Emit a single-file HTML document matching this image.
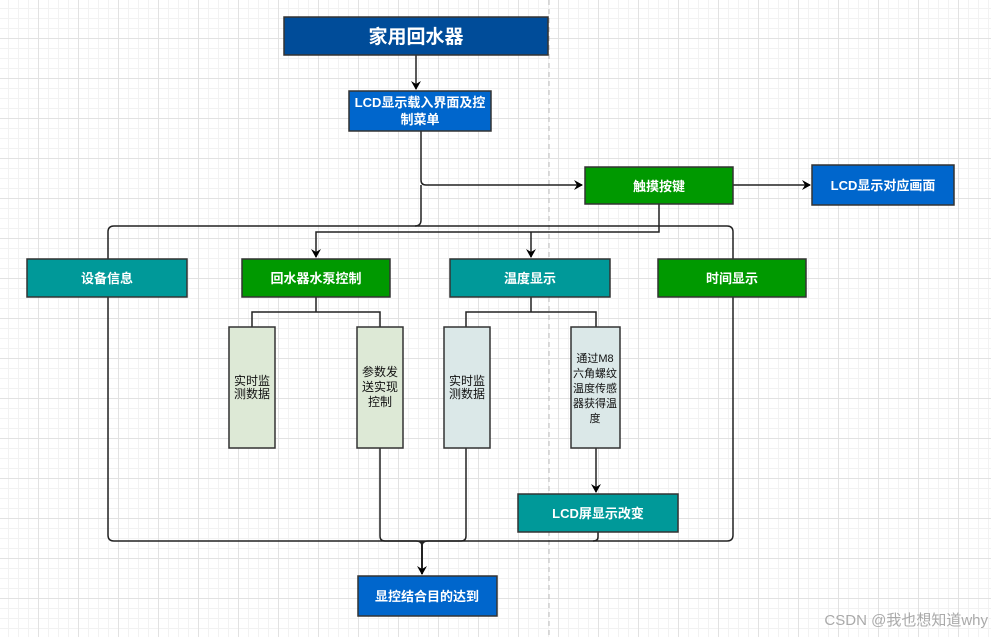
<!DOCTYPE html>
<html><head><meta charset="utf-8"><style>
html,body{margin:0;padding:0;background:#fff}
body{width:991px;height:637px;overflow:hidden;position:relative;
background-image:linear-gradient(#e2e2e2 1px,transparent 1px),linear-gradient(90deg,#e2e2e2 1px,transparent 1px),linear-gradient(#f2f2f2 1px,transparent 1px),linear-gradient(90deg,#f2f2f2 1px,transparent 1px);
background-size:40px 40px,40px 40px,10px 10px,10px 10px;background-position:-2px -2px}
svg{position:absolute;left:0;top:0}
text{font-family:"Liberation Sans","Noto Sans CJK SC",sans-serif}
</style></head><body>
<svg width="991" height="637" viewBox="0 0 991 637">
<defs><marker id="a" markerWidth="10" markerHeight="10" refX="8" refY="5" orient="auto" markerUnits="userSpaceOnUse"><path d="M0,0 L9,5 L0,10 L3,5z" fill="#000"/></marker></defs>
<line x1="549" y1="0" x2="549" y2="637" stroke="#bbb" stroke-dasharray="5,4"/>
<g fill="none" stroke="#222" stroke-width="1.5">
<path d="M416 55 V89" marker-end="url(#a)"/>
<path d="M421 131 V180 Q421 185 426 185 H582" marker-end="url(#a)"/>
<path d="M733 185 H810" marker-end="url(#a)"/>
<path d="M421 185 V220 Q421 226 415 226 H114 Q108 226 108 232 V259"/>
<path d="M415 226 H727 Q733 226 733 232 V259"/>
<path d="M108 297 V535 Q108 541 114 541 H727 Q733 541 733 535 V297"/>
<path d="M659 204 V232 H316 V257" marker-end="url(#a)"/>
<path d="M531 232 V257" marker-end="url(#a)"/>
<path d="M316 297 V312 M252 327 V312 H380 V327"/>
<path d="M531 297 V312 M466 327 V312 H596 V327"/>
<path d="M596 448 V492" marker-end="url(#a)"/>
<path d="M380 448 V536 Q380 541 385 541 H416 Q422 541 422 546"/>
<path d="M466 448 V536 Q466 541 461 541 H428 Q422 541 422 546"/>
<path d="M598 532 V537 Q598 541 593 541"/>
<path d="M422 541 V574" stroke-width="2" marker-end="url(#a)"/>
</g>
<g stroke="#333" stroke-width="1.5">
<rect x="284" y="17" width="264" height="38" fill="#004C99"/>
<rect x="349" y="91" width="142" height="40" fill="#0066CC"/>
<rect x="585" y="167" width="148" height="37" fill="#009900"/>
<rect x="812" y="165" width="142" height="40" fill="#0066CC"/>
<rect x="27" y="259" width="160" height="38" fill="#009999"/>
<rect x="242" y="259" width="148" height="38" fill="#009900"/>
<rect x="450" y="259" width="160" height="38" fill="#009999"/>
<rect x="658" y="259" width="148" height="38" fill="#009900"/>
<rect x="229" y="327" width="46" height="121" fill="#dde9d6"/>
<rect x="357" y="327" width="46" height="121" fill="#dde9d6"/>
<rect x="444" y="327" width="46" height="121" fill="#dbe8e8"/>
<rect x="571" y="327" width="49" height="121" fill="#dbe8e8"/>
<rect x="518" y="494" width="160" height="38" fill="#009999"/>
<rect x="358" y="576" width="139" height="40" fill="#0066CC"/>
</g>
<g fill="#fff" font-weight="bold" text-anchor="middle">
<text x="416" y="43" font-size="19">家用回水器</text>
<text x="420" y="107" font-size="13">LCD显示载入界面及控</text>
<text x="420" y="124" font-size="13">制菜单</text>
<text x="659" y="191" font-size="13">触摸按键</text>
<text x="883" y="190" font-size="13">LCD显示对应画面</text>
<text x="107" y="283" font-size="13">设备信息</text>
<text x="316" y="283" font-size="13">回水器水泵控制</text>
<text x="530" y="283" font-size="13">温度显示</text>
<text x="732" y="283" font-size="13">时间显示</text>
<text x="598" y="518" font-size="13">LCD屏显示改变</text>
<text x="427" y="601" font-size="13">显控结合目的达到</text>
</g>
<g fill="#111" font-size="12" text-anchor="middle">
<text x="252" y="385">实时监</text><text x="252" y="398">测数据</text>
<text x="380" y="376">参数发</text><text x="380" y="391">送实现</text><text x="380" y="406">控制</text>
<text x="467" y="385">实时监</text><text x="467" y="398">测数据</text>
<g font-size="11"><text x="595" y="362">通过M8</text><text x="595" y="377">六角螺纹</text><text x="595" y="392">温度传感</text><text x="595" y="407">器获得温</text><text x="595" y="422">度</text></g>
</g>
<text x="988" y="625" font-size="15" fill="#aaa" text-anchor="end">CSDN @我也想知道why</text>
</svg>
</body></html>
